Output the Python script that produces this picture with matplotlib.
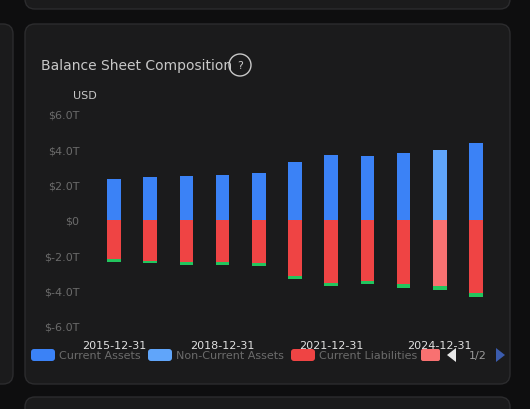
import matplotlib
matplotlib.use("Agg")
import matplotlib.pyplot as plt
from matplotlib.patches import FancyBboxPatch, Rectangle, Polygon

years = ["2015-12-31","2016-12-31","2017-12-31","2018-12-31","2019-12-31","2020-12-31",
         "2021-12-31","2022-12-31","2023-12-31","2024-12-31","2025-12-31"]
current_assets = [2.3,2.45,2.5,2.55,2.65,3.3,3.7,3.6,3.8,3.95,4.35]
current_liab = [-2.2,-2.3,-2.4,-2.35,-2.45,-3.15,-3.55,-3.45,-3.65,-3.75,-4.15]
other_liab = [-0.15,-0.15,-0.15,-0.18,-0.15,-0.18,-0.2,-0.18,-0.18,-0.2,-0.22]
highlight = 9
yticks = [6,4,2,0,-2,-4,-6]
ylabels = ["$6.0T","$4.0T","$2.0T","$0","$-2.0T","$-4.0T","$-6.0T"]
xtick_idx = [0,3,6,9]

W,H = 530,410
fig = plt.figure(figsize=(W/100,H/100), dpi=100, facecolor="#0e0e0f")
bg = fig.add_axes([0,0,1,1]); bg.set_xlim(0,W); bg.set_ylim(H,0); bg.axis("off")
for (x,y,w,h) in [(25,25,485,360),(-30,25,43,360),(25,-60,485,70),(25,398,485,60)]:
    bg.add_patch(FancyBboxPatch((x,y),w,h,boxstyle="round,pad=0,rounding_size=10",
                 fc="#1b1b1c", ec="#2c2c2e", lw=1))
bg.text(41,66,"Balance Sheet Composition",color="#c8c8c8",fontsize=10,va="center")
bg.add_patch(plt.Circle((240,66),11,fc="none",ec="#c8c8c8",lw=1))
bg.text(240,66,"?",color="#c8c8c8",fontsize=8,ha="center",va="center")
bg.text(73,96,"USD",color="#c8c8c8",fontsize=8,va="center")

leg = [("Current Assets","#3b82f6",31),("Non-Current Assets","#60a5fa",148),("Current Liabilities","#ef4444",291)]
for name,c,x in leg:
    bg.add_patch(FancyBboxPatch((x,350),24,12,boxstyle="round,pad=0,rounding_size=3",fc=c,ec="none"))
    bg.text(x+28,356,name,color="#6b6b6b",fontsize=8,va="center")
bg.add_patch(FancyBboxPatch((421,350),19,12,boxstyle="round,pad=0,rounding_size=2",fc="#f87171",ec="none"))
bg.add_patch(Polygon([[456,349],[456,363],[447,356]],fc="#e8e8e8"))
bg.text(469,356,"1/2",color="#9a9a9a",fontsize=8,va="center")
bg.add_patch(Polygon([[496,349],[496,363],[505,356]],fc="#3b5cae"))

ax = fig.add_axes([85/W, 1-327/H, 420/W, 212/H])
ax.set_facecolor("none")
x = list(range(len(years)))
ca_c = ["#60a5fa" if i==highlight else "#3b82f6" for i in x]
cl_c = ["#f87171" if i==highlight else "#ef4444" for i in x]
ax.bar(x, current_assets, width=0.38, color=ca_c)
ax.bar(x, current_liab, width=0.38, color=cl_c)
ax.bar(x, other_liab, bottom=current_liab, width=0.38, color="#22c55e")
ax.set_ylim(-6,6); ax.set_xlim(-0.8,10.8)
ax.set_yticks(yticks); ax.set_yticklabels(ylabels, color="#6b6b6b", fontsize=8)
ax.set_xticks(xtick_idx); ax.set_xticklabels([years[i] for i in xtick_idx], color="#e0e0e0", fontsize=8)
ax.tick_params(length=0, pad=4)
ax.tick_params(axis="x", pad=10)
for s in ax.spines.values(): s.set_visible(False)
fig.savefig("out.png", dpi=100, facecolor=fig.get_facecolor())
